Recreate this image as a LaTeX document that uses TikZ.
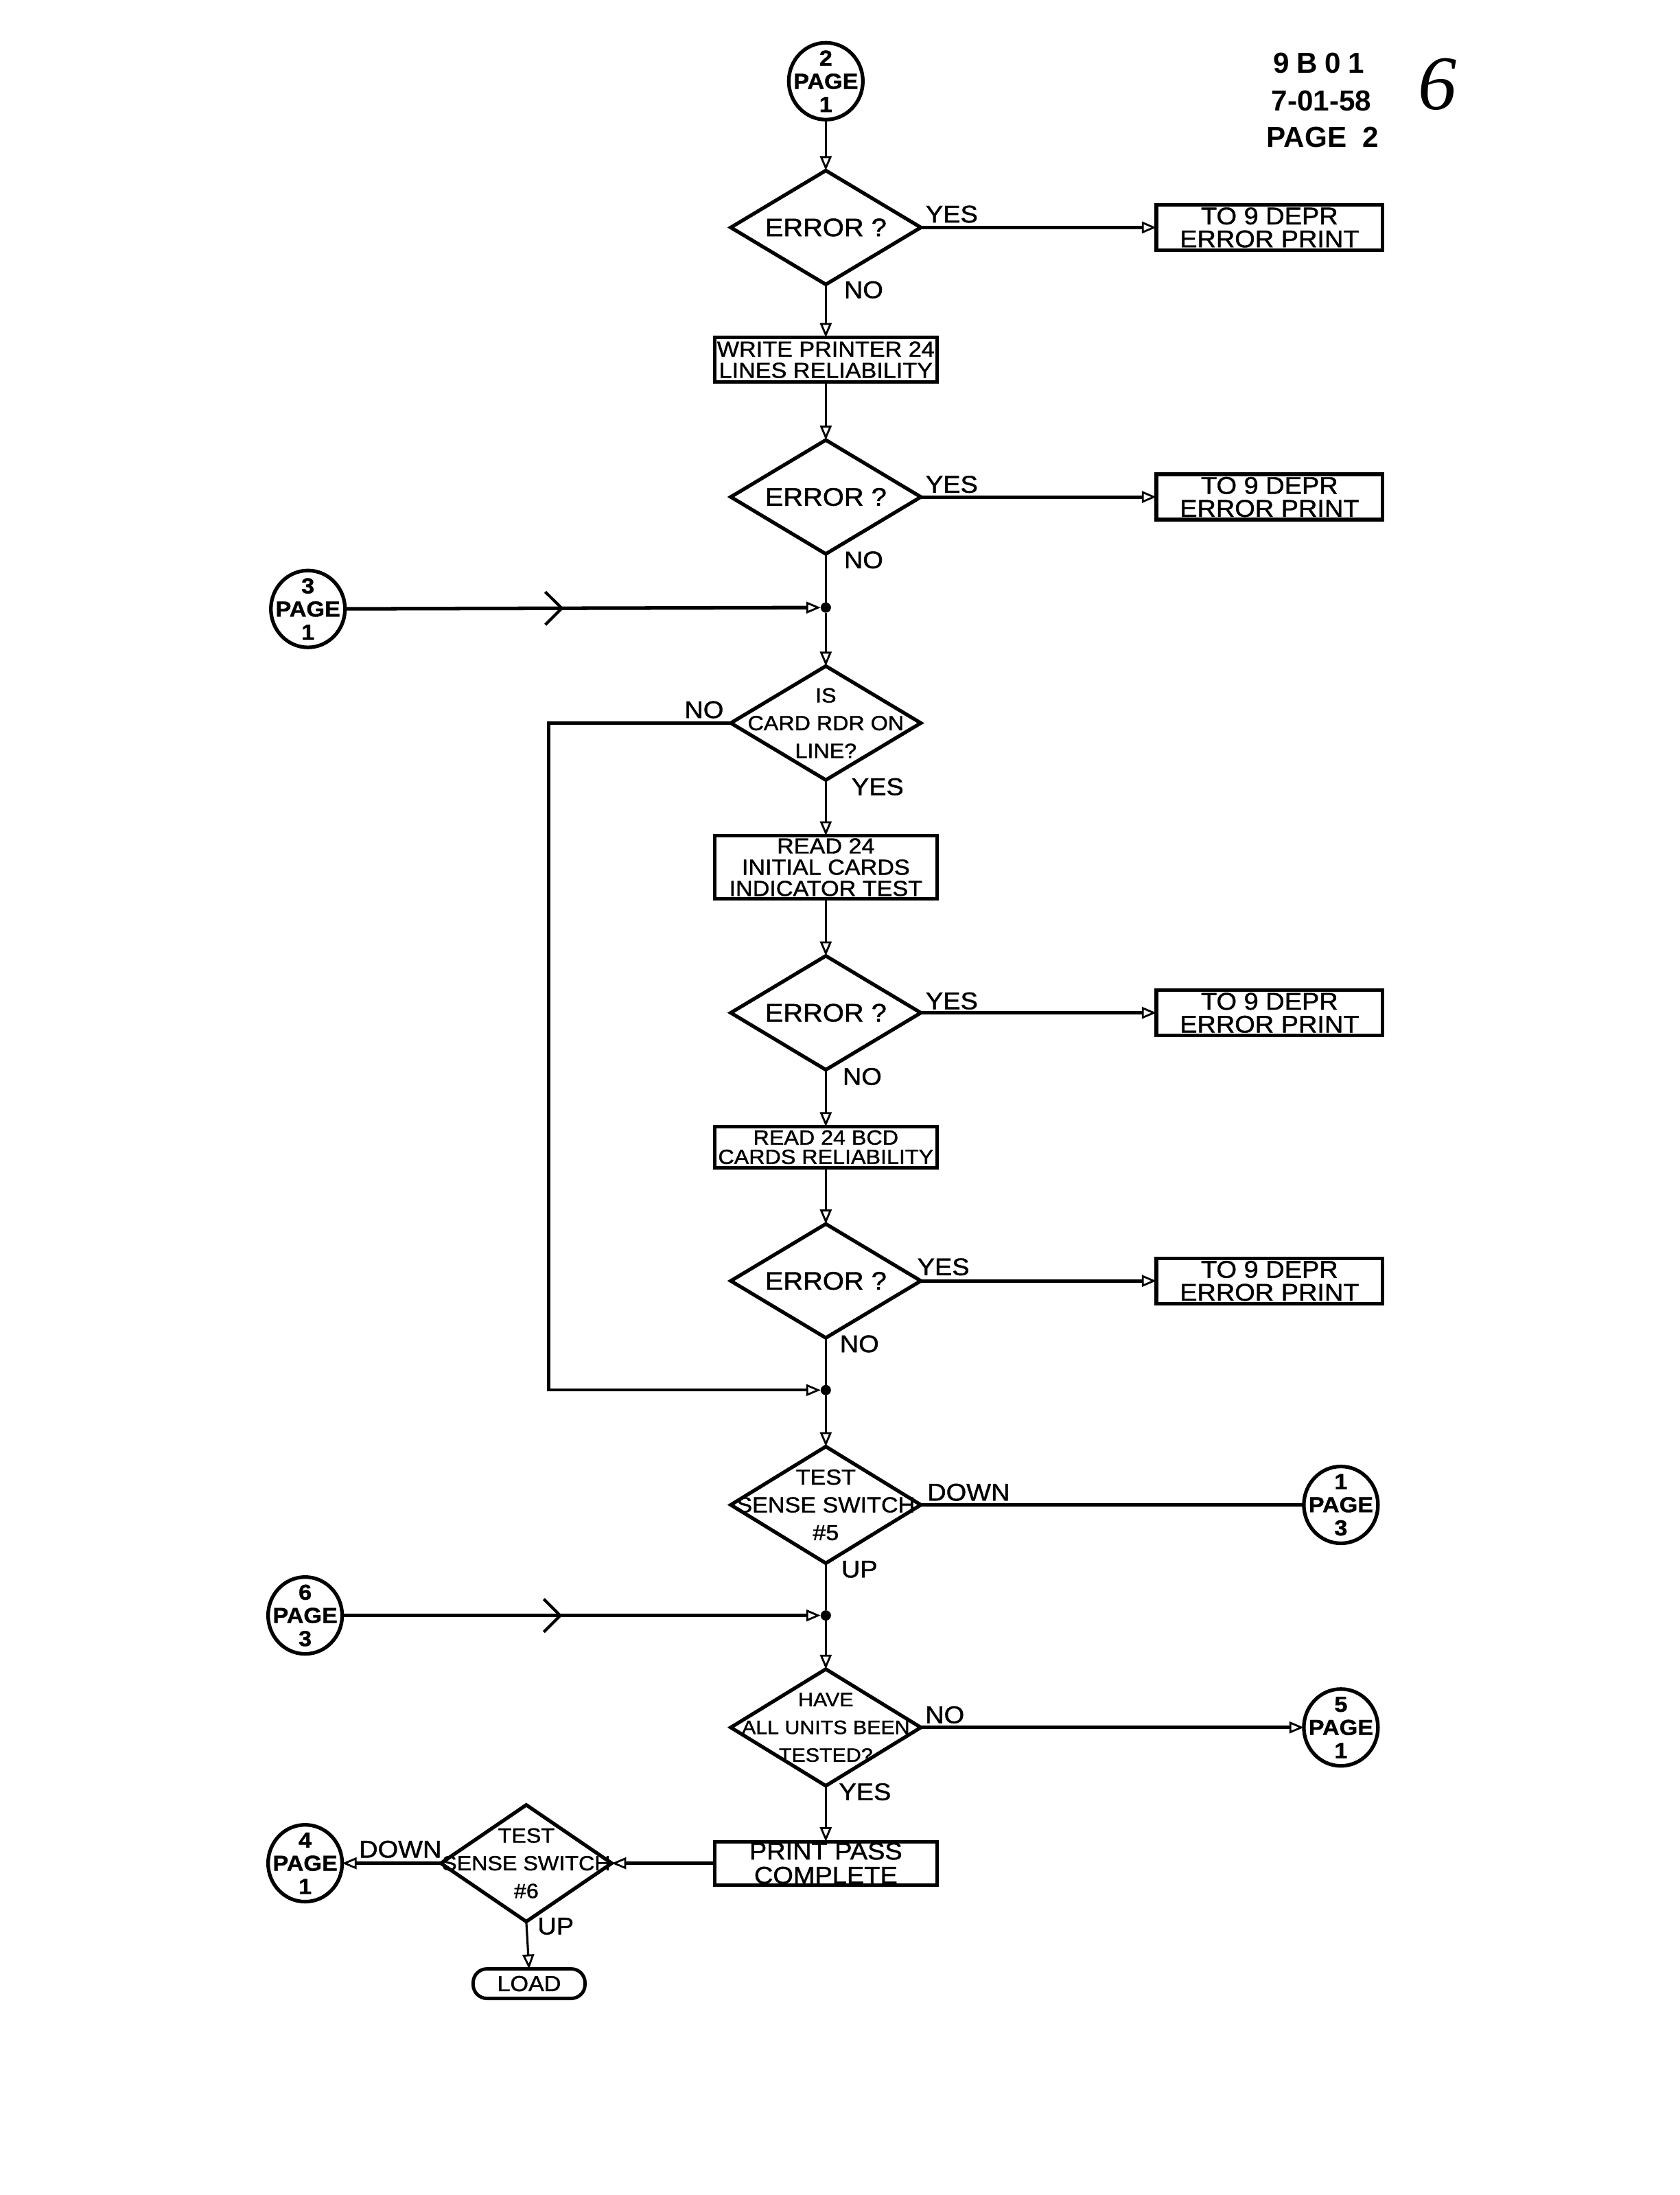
\documentclass[tikz,border=0pt]{standalone}
\usepackage{fontspec}
\setmainfont{Liberation Sans}
\newfontfamily\hand{Liberation Sans}[FakeStretch=1.08, FakeBold=1.2]
\newfontfamily\scriptsix{Liberation Serif}
\usetikzlibrary{shapes.geometric,arrows.meta,decorations.markings}
\begin{document}
\begin{tikzpicture}[x=0.204mm,y=-0.204mm,
  every node/.style={inner sep=0pt, outer sep=0pt},
  proc/.style={draw, line width=1.5pt, rectangle, minimum width=32.4mm, align=center, font=\hand\fontsize{9}{8.8}\selectfont},
  errbox/.style={draw, line width=1.5pt, rectangle, minimum width=33mm, minimum height=6.6mm, align=center, font=\hand\fontsize{10}{9.5}\selectfont},
  dia/.style={draw, line width=1.5pt, diamond, minimum width=27.7mm, minimum height=16.6mm},
  conn/.style={draw, line width=1.5pt, ellipse, minimum width=10.8mm, minimum height=11.2mm},
  ctext/.style={font=\hand\bfseries\fontsize{9}{9.6}\selectfont, align=center},
  dtext/.style={font=\hand\fontsize{8.5}{11.5}\selectfont, align=center},
  lbl/.style={font=\hand\fontsize{10}{10}\selectfont},
  hdr/.style={font=\bfseries\fontsize{12}{12}\selectfont},
  jdot/.style={circle, fill=black, minimum size=1.5mm},
  tip/.style={-{Triangle[open,length=2.1mm,width=1.7mm,line width=0.8pt]}},
  flow/.style={line width=0.9pt, tip},
  hflow/.style={line width=1.4pt, tip},
  vline/.style={line width=0.9pt},
  inflow/.style={line width=1.5pt, tip, postaction={decorate}, decoration={markings, mark=at position 0.46 with {\arrow{Straight Barb[length=2.4mm,width=4.8mm,line width=1.2pt]}}}}
]
\fill[white] (0,0) rectangle (1200,1568);
\useasboundingbox (0,0) rectangle (1200,1568);

% header
\node[hdr] (h1) at (942,45) {\addfontfeatures{LetterSpace=25}9B01};
\node[hdr] (h2) at (944,72) {7-01-58};
\node[hdr] (h3) at (945,98) {PAGE\ \ 2};
\node[font=\scriptsix\itshape\fontsize{32}{32}\selectfont] (h6) at (1027,60) {6};

% connectors (circles)
\node[conn] (c2) at (590,58) {};
\node[ctext] (c2t) at (c2) {2\\PAGE\\1};
\node[conn] (c3) at (220,435) {};
\node[ctext] (c3t) at (c3) {3\\PAGE\\1};
\node[conn] (c1) at (958,1075) {};
\node[ctext] (c1t) at (c1) {1\\PAGE\\3};
\node[conn] (c6) at (218,1154) {};
\node[ctext] (c6t) at (c6) {6\\PAGE\\3};
\node[conn] (c5) at (958,1234) {};
\node[ctext] (c5t) at (c5) {5\\PAGE\\1};
\node[conn] (c4) at (218,1331) {};
\node[ctext] (c4t) at (c4) {4\\PAGE\\1};

% diamonds
\node[dia] (d1) at (590,162.5) {};
\node[dtext, font=\hand\fontsize{10.5}{11}\selectfont] (d1t) at (d1) {ERROR ?};
\node[dia] (d2) at (590,355) {};
\node[dtext, font=\hand\fontsize{10.5}{11}\selectfont] (d2t) at (d2) {ERROR ?};
\node[dia] (d3) at (590,516.5) {};
\node[dtext] (d3t) at (d3) {IS\\CARD RDR ON\\LINE?};
\node[dia] (d4) at (590,723.5) {};
\node[dtext, font=\hand\fontsize{10.5}{11}\selectfont] (d4t) at (d4) {ERROR ?};
\node[dia] (d5) at (590,915) {};
\node[dtext, font=\hand\fontsize{10.5}{11}\selectfont] (d5t) at (d5) {ERROR ?};
\node[dia, minimum height=17mm] (d6) at (590,1075) {};
\node[dtext, font=\hand\fontsize{9}{11.5}\selectfont] (d6t) at (d6) {TEST\\SENSE SWITCH\\\#5};
\node[dia, minimum height=17mm] (d7) at (590,1234) {};
\node[dtext, font=\hand\fontsize{8}{11.5}\selectfont] (d7t) at (d7) {HAVE\\ALL UNITS BEEN\\TESTED?};
\node[dia, minimum height=17mm, minimum width=24.9mm] (d8) at (376,1331) {};
\node[dtext, font=\hand\fontsize{8.5}{11.5}\selectfont] (d8t) at (d8) {TEST\\SENSE SWITCH\\\#6};

% process boxes
\node[proc, minimum height=6.5mm] (b1) at (590,257) {WRITE PRINTER 24\\LINES RELIABILITY};
\node[proc, minimum height=9.2mm] (b2) at (590,619.5) {READ 24\\INITIAL CARDS\\INDICATOR TEST};
\node[proc, minimum height=6mm, font=\hand\fontsize{8.5}{8}\selectfont] (b3) at (590,819.5) {READ 24 BCD\\CARDS RELIABILITY};
\node[proc, minimum height=6.3mm, font=\hand\fontsize{10}{10}\selectfont] (b4) at (590,1331) {PRINT PASS\\COMPLETE};

% error boxes
\node[errbox] (e1) at (907,162.5) {TO 9 DEPR\\ERROR PRINT};
\node[errbox] (e2) at (907,355) {TO 9 DEPR\\ERROR PRINT};
\node[errbox] (e3) at (907,723.5) {TO 9 DEPR\\ERROR PRINT};
\node[errbox] (e4) at (907,915) {TO 9 DEPR\\ERROR PRINT};

% terminal
\node[draw, line width=1.4pt, rounded corners=2mm, minimum width=16.3mm, minimum height=4.3mm, font=\hand\fontsize{9}{9}\selectfont] (load) at (378,1417) {LOAD};

% junctions
\node[jdot] (j1) at (590,434) {};
\node[jdot] (j2) at (590,993) {};
\node[jdot] (j3) at (590,1154) {};

% flow lines
\draw[flow] (c2) -- (d1.north);
\draw[hflow] (d1.east) -- (e1.west);
\draw[flow] (d1.south) -- (b1.north);
\draw[flow] (b1.south) -- (d2.north);
\draw[hflow] (d2.east) -- (e2.west);
\draw[vline] (d2.south) -- (j1);
\draw[inflow] (c3) -- (j1);
\draw[flow] (j1) -- (d3.north);
\draw[line width=1.2pt, tip] (d3.west) -- (392,516.5) -- (392,993) -- (j2);
\draw[flow] (d3.south) -- (b2.north);
\draw[flow] (b2.south) -- (d4.north);
\draw[hflow] (d4.east) -- (e3.west);
\draw[flow] (d4.south) -- (b3.north);
\draw[flow] (b3.south) -- (d5.north);
\draw[hflow] (d5.east) -- (e4.west);
\draw[vline] (d5.south) -- (j2);
\draw[flow] (j2) -- (d6.north);
\draw[line width=1.4pt] (d6.east) -- (c1);
\draw[vline] (d6.south) -- (j3);
\draw[inflow] (c6) -- (j3);
\draw[flow] (j3) -- (d7.north);
\draw[hflow] (d7.east) -- (c5);
\draw[flow] (d7.south) -- (b4.north);
\draw[hflow] (b4.west) -- (d8.east);
\draw[hflow] (d8.west) -- (c4);
\draw[flow] (d8.south) -- (load.north);

% labels
\node[lbl] (l1y) at (680,153) {YES};
\node[lbl] (l1n) at (617,207) {NO};
\node[lbl] (l2y) at (680,346) {YES};
\node[lbl] (l2n) at (617,400) {NO};
\node[lbl] (l3n) at (503,507) {NO};
\node[lbl] (l3y) at (627,562) {YES};
\node[lbl] (l4y) at (680,715) {YES};
\node[lbl] (l4n) at (616,769) {NO};
\node[lbl] (l5y) at (674,905) {YES};
\node[lbl] (l5n) at (614,960) {NO};
\node[lbl] (l6d) at (692,1066) {DOWN};
\node[lbl] (l6u) at (614,1121) {UP};
\node[lbl] (l7n) at (675,1225) {NO};
\node[lbl] (l7y) at (618,1280) {YES};
\node[lbl] (l8d) at (286,1321) {DOWN};
\node[lbl] (l8u) at (397,1376) {UP};
\end{tikzpicture}
\end{document}
